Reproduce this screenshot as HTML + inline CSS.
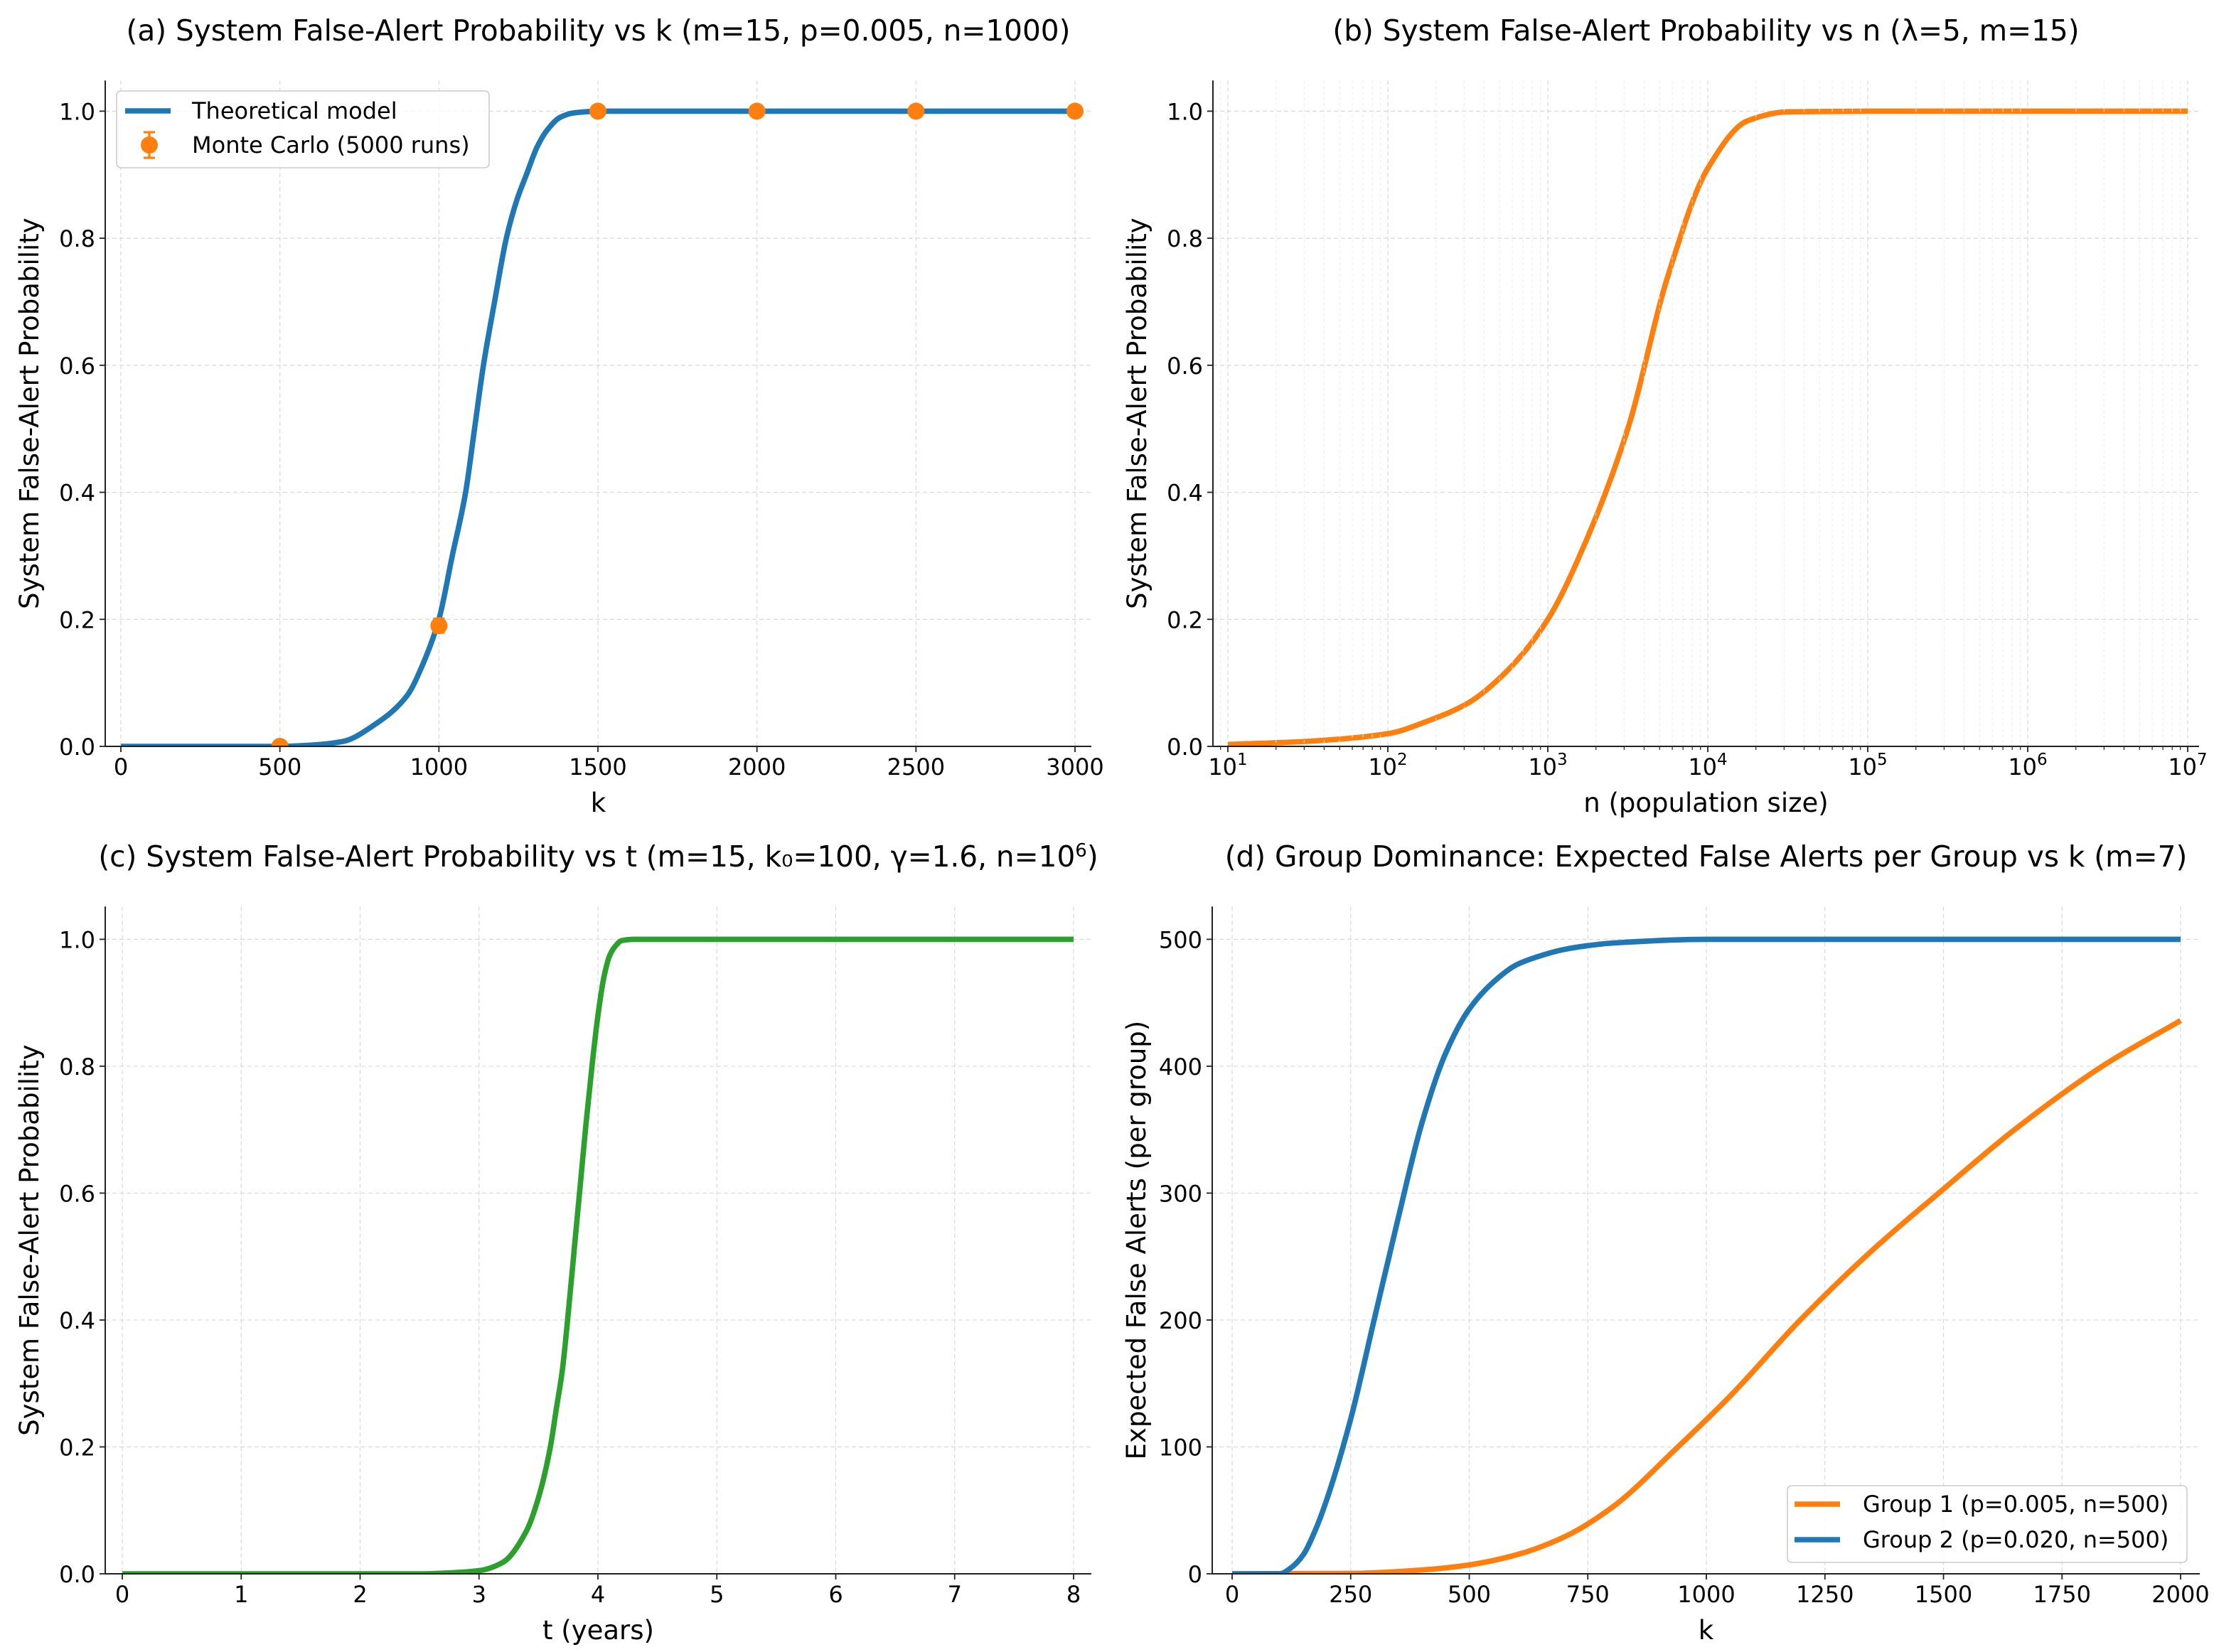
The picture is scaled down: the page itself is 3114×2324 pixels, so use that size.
<!DOCTYPE html>
<html><head><meta charset="utf-8"><style>
html,body{margin:0;padding:0;background:#fff}
svg{display:block}
text{font-family:"DejaVu Sans","Liberation Sans",sans-serif;fill:#000}
</style></head><body>
<svg id="fig" xmlns="http://www.w3.org/2000/svg" width="3114" height="2324" viewBox="0 0 1557 1162">
<rect width="1557" height="1162" fill="#fff"/>
</svg>
<script>
// ---- Panel (a) data ----
const aK = [0,500,600,700,800,900,950,1000,1042,1084,1112,1140,1175,1212,1245,1275,1310,1340,1380,1420,1460,1500,2000,2500,3000];
const aP = [0,0,0.002,0.008,0.035,0.08,0.13,0.2,0.3,0.4,0.5,0.6,0.7,0.8,0.86,0.9,0.945,0.97,0.99,0.997,0.999,1,1,1,1];
const mcK = [500,1000,1500,2000,2500,3000];
const mcP = [0,0.19,1,1,1,1];
const mcErr = [0,0.011,0,0,0,0];
const aXTicks = [0,500,1000,1500,2000,2500,3000];
const probTicks = [0,0.2,0.4,0.6,0.8,1.0];
// ---- Panel (b) data (log10 n) ----
const bLogN = [1,1.5,2,2.25,2.5,2.75,3,3.25,3.5,3.75,4,4.25,4.5,5,6,7];
const bP = [0.003,0.008,0.02,0.04,0.068,0.12,0.2,0.33,0.5,0.74,0.91,0.985,0.999,1,1,1];
const bXTicks = [1,2,3,4,5,6,7];
// ---- Panel (c) data ----
const cT = [0,2.5,2.7,3.0,3.2,3.4,3.5,3.6,3.65,3.7,3.75,3.8,3.85,3.9,3.95,4.0,4.05,4.1,4.15,4.2,4.3,5,8];
const cP = [0,0,0.001,0.005,0.018,0.068,0.12,0.2,0.26,0.32,0.41,0.51,0.61,0.71,0.8,0.88,0.94,0.975,0.99,0.998,1,1,1];
const cXTicks = [0,1,2,3,4,5,6,7,8];
// ---- Panel (d) data ----
const dK1 = [0,250,400,500,600,700,800,940,1050,1198,1350,1490,1650,1835,2000];
const dG1 = [0,0.3,3,7,15,29,52,100,140,200,255,300,350,400,436];
const dK2 = [0,100,125,150,175,200,250,300,350,400,450,500,550,600,650,700,750,800,1000,2000];
const dG2 = [0,0,5,15,34,59,122,201,280,355,410,445,466,480,487,492,495,497,500,500];
const dXTicks = [0,250,500,750,1000,1250,1500,1750,2000];
const dYTicks = [0,100,200,300,400,500];

const NS='http://www.w3.org/2000/svg';
const svg=document.getElementById('fig');
const defs=document.createElementNS(NS,'defs');svg.appendChild(defs);
let clipN=0;
function mk(tag,attrs,parent){const e=document.createElementNS(NS,tag);for(const k in attrs)e.setAttribute(k,attrs[k]);(parent||svg).appendChild(e);return e;}
function lin(d0,d1,r0,r1){return v=>r0+(v-d0)*(r1-r0)/(d1-d0);}
function monoPath(xs,ys){
  const n=xs.length;const dx=[],m=[],t=new Array(n);
  for(let i=0;i<n-1;i++){dx[i]=xs[i+1]-xs[i];m[i]=(ys[i+1]-ys[i])/dx[i];}
  t[0]=m[0];t[n-1]=m[n-2];
  for(let i=1;i<n-1;i++){t[i]=(m[i-1]*m[i]<=0)?0:3*(dx[i-1]+dx[i])/((2*dx[i]+dx[i-1])/m[i-1]+(dx[i]+2*dx[i-1])/m[i]);}
  let d='M'+xs[0].toFixed(2)+','+ys[0].toFixed(2);
  for(let i=0;i<n-1;i++){const h=dx[i]/3;
    d+=' C'+(xs[i]+h).toFixed(2)+','+(ys[i]+t[i]*h).toFixed(2)+' '+(xs[i+1]-h).toFixed(2)+','+(ys[i+1]-t[i+1]*h).toFixed(2)+' '+xs[i+1].toFixed(2)+','+ys[i+1].toFixed(2);}
  return d;
}
const TICKF=16, LABF=18.5, TITF=20.3, LEGF=16;
function axes(o){
  const g=mk('g',{});
  
  
  const id='clip'+(clipN++);
  const cp=mk('clipPath',{id:id},defs);mk('rect',{x:o.left,y:o.top,width:o.right-o.left,height:o.bottom-o.top},cp);
  o.xt.forEach(v=>{const x=o.sx(v);const l=mk('line',{x1:x,x2:x,y1:o.top,y2:o.bottom,stroke:'#d9d9d9','stroke-width':0.6,'stroke-dasharray':'3,2'},g);
    });
  o.yt.forEach(v=>{const y=o.sy(v);const l=mk('line',{x1:o.left,x2:o.right,y1:y,y2:y,stroke:'#d9d9d9','stroke-width':0.6,'stroke-dasharray':'3,2'},g);
    });
  const plot=mk('g',{'clip-path':'url(#'+id+')'},g);
  
  o.xt.forEach((v,i)=>{const x=o.sx(v);mk('line',{x1:x,x2:x,y1:o.bottom,y2:o.bottom+4,stroke:'#222','stroke-width':0.9},g);
    const t=mk('text',{x:x,y:o.bottom+20,'text-anchor':'middle','font-size':TICKF},g);
    
    if(o.log){t.appendChild(document.createTextNode('10'));const s=mk('tspan',{dy:-7,'font-size':11.5},t);s.textContent=String(v);}
    else t.textContent=o.xfmt?o.xfmt(v):String(v);});
  o.yt.forEach(v=>{const y=o.sy(v);mk('line',{x1:o.left-4,x2:o.left,y1:y,y2:y,stroke:'#222','stroke-width':0.9},g);
    const t=mk('text',{x:o.left-7,y:y+6,'text-anchor':'end','font-size':TICKF},g);
    
    t.textContent=o.yfmt?o.yfmt(v):String(v);});
  const xl=mk('text',{x:(o.left+o.right)/2,y:o.bottom+46,'text-anchor':'middle','font-size':LABF},g);
  xl.textContent=o.xlabel;
  const yx=o.left-47,yc=(o.top+o.bottom)/2;
  const yl=mk('text',{x:yx,y:yc,'text-anchor':'middle','font-size':LABF,transform:'rotate(-90 '+yx+' '+yc+')'},g);
  yl.textContent=o.ylabel;
  const ti=mk('text',{x:(o.left+o.right)/2,y:o.top-28,'text-anchor':'middle','font-size':TITF},g);
  
  if(o.titleNodes)o.titleNodes(ti);else ti.textContent=o.title;
  o.plot=plot;o.g=g;
  return o;
}
function spines(o){
  const sl=mk('line',{x1:o.left,x2:o.left,y1:o.top,y2:o.bottom,stroke:'#222','stroke-width':1},o.g);
  
  const sb=mk('line',{x1:o.left,x2:o.right,y1:o.bottom,y2:o.bottom,stroke:'#222','stroke-width':1},o.g);
  
}
function series(g,xs,ys,sx,sy,color,name){
  const p=mk('path',{d:monoPath(xs.map(sx),ys.map(sy)),fill:'none',stroke:color,'stroke-width':3.8,'stroke-linejoin':'round','stroke-linecap':'butt'},g);
  
  return p;
}
const pf=v=>v.toFixed(1);
const BLUE='#1f77b4',ORANGE='#ff7f0e',GREEN='#2ca02c';

// ===== Panel (a) =====
{const sx=lin(0,3000,85,756),sy=lin(0,1,525,78.2);
 const o=axes({name:'panel-a',left:74,right:767.5,top:56.6,bottom:525,sx,sy,xt:aXTicks,yt:probTicks,yfmt:pf,xlabel:'k',ylabel:'System False-Alert Probability',title:'(a) System False-Alert Probability vs k (m=15, p=0.005, n=1000)'});
 const g=o.plot;
 series(g,aK,aP,sx,sy,BLUE,'theoretical-model-line');
 mcK.forEach((k,i)=>{const x=sx(k),y=sy(mcP[i]);
   if(mcErr[i]>0){const e=mk('line',{x1:x,x2:x,y1:sy(mcP[i]+mcErr[i]),y2:sy(mcP[i]-mcErr[i]),stroke:ORANGE,'stroke-width':1.6},g);
     
     [mcP[i]+mcErr[i],mcP[i]-mcErr[i]].forEach(v=>mk('line',{x1:x-4,x2:x+4,y1:sy(v),y2:sy(v),stroke:ORANGE,'stroke-width':1.6},g));}
   const c=mk('circle',{cx:x,cy:y,r:6,fill:ORANGE},g);
   });
 spines(o);
 const lg=mk('g',{},o.g);
 mk('rect',{x:82,y:64,width:262,height:54,rx:3,fill:'#fff','fill-opacity':0.8,stroke:'#ccc','stroke-width':0.8},lg);
 mk('line',{x1:88,x2:120,y1:78,y2:78,stroke:BLUE,'stroke-width':3.8},lg);
 const t1=mk('text',{x:135,y:83.5,'font-size':LEGF},lg);t1.textContent='Theoretical model';
 mk('circle',{cx:105,cy:102,r:6,fill:ORANGE},lg);
 mk('line',{x1:105,x2:105,y1:93,y2:111,stroke:ORANGE,'stroke-width':1.6},lg);
 mk('line',{x1:101,x2:109,y1:93,y2:93,stroke:ORANGE,'stroke-width':1.6},lg);
 mk('line',{x1:101,x2:109,y1:111,y2:111,stroke:ORANGE,'stroke-width':1.6},lg);
 const t2=mk('text',{x:135,y:107.5,'font-size':LEGF},lg);t2.textContent='Monte Carlo (5000 runs)';
}
// ===== Panel (b) =====
{const T=56.6,B=525;
 const sx=lin(1,7,863.5,1538.5),sy=lin(0,1,525,78.2);
 const o=axes({name:'panel-b',left:853,right:1546.5,top:T,bottom:B,sx,sy,xt:bXTicks,yt:probTicks,yfmt:pf,log:true,xlabel:'n (population size)',ylabel:'System False-Alert Probability',title:'(b) System False-Alert Probability vs n (λ=5, m=15)'});
 for(let d=-1;d<=6;d++)for(let m=2;m<=9;m++){const v=d+1+Math.log10(m);if(v>7.05||sx(v)<854)continue;const x=sx(v);
   mk('line',{x1:x,x2:x,y1:T,y2:B,stroke:'#ececec','stroke-width':0.5,'stroke-dasharray':'2,2'},o.g);
   mk('line',{x1:x,x2:x,y1:B,y2:B+2.5,stroke:'#222','stroke-width':0.6},o.g);}
 series(o.plot,bLogN,bP,sx,sy,ORANGE,'probability-vs-n-line');
 spines(o);
}
// ===== Panel (c) =====
{const sx=lin(0,8,86,755),sy=lin(0,1,1107,660.7);
 const o=axes({name:'panel-c',left:74,right:767.5,top:637.6,bottom:1107,sx,sy,xt:cXTicks,yt:probTicks,yfmt:pf,xlabel:'t (years)',ylabel:'System False-Alert Probability',
   titleNodes:t=>{t.appendChild(document.createTextNode('(c) System False-Alert Probability vs t (m=15, k₀=100, γ=1.6, n=10'));const s=mk('tspan',{dy:-7,'font-size':13},t);s.textContent='6';const s2=mk('tspan',{dy:7},t);s2.textContent=')';}});
 series(o.plot,cT,cP,sx,sy,GREEN,'probability-vs-t-line');
 spines(o);
}
// ===== Panel (d) =====
{const sx=lin(0,2000,866.5,1533.5),sy=lin(0,500,1107,660.7);
 const o=axes({name:'panel-d',left:852.5,right:1547,top:637.6,bottom:1107,sx,sy,xt:dXTicks,yt:dYTicks,xlabel:'k',ylabel:'Expected False Alerts (per group)',title:'(d) Group Dominance: Expected False Alerts per Group vs k (m=7)'});
 series(o.plot,dK1,dG1,sx,sy,ORANGE,'group-1-line');
 series(o.plot,dK2,dG2,sx,sy,BLUE,'group-2-line');
 spines(o);
 const lg=mk('g',{},o.g);
 mk('rect',{x:1257,y:1045,width:281,height:54,rx:3,fill:'#fff','fill-opacity':0.8,stroke:'#ccc','stroke-width':0.8},lg);
 mk('line',{x1:1262,x2:1294,y1:1058,y2:1058,stroke:ORANGE,'stroke-width':3.8},lg);
 const t1=mk('text',{x:1310,y:1063.5,'font-size':LEGF},lg);t1.textContent='Group 1 (p=0.005, n=500)';
 mk('line',{x1:1262,x2:1294,y1:1083,y2:1083,stroke:BLUE,'stroke-width':3.8},lg);
 const t2=mk('text',{x:1310,y:1088.5,'font-size':LEGF},lg);t2.textContent='Group 2 (p=0.020, n=500)';
}
</script>
</body></html>
